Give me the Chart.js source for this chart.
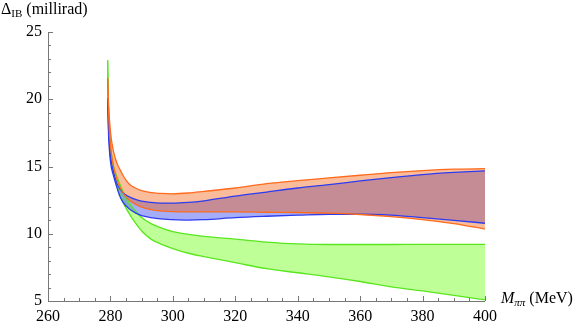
<!DOCTYPE html>
<html>
<head>
<meta charset="utf-8">
<script src="https://cdn.jsdelivr.net/npm/chart.js@4.4.1/dist/chart.umd.min.js"></script>
<style>
  html, body { margin: 0; padding: 0; background: #fff; }
  #wrap { position: relative; width: 580px; height: 327px; }
  .lbl { position: absolute; font-family: "Liberation Serif", "DejaVu Serif", serif; font-size: 16px; color: #000; white-space: nowrap; }
  .lbl sub { font-size: 11px; vertical-align: -3px; }
</style>
</head>
<body>
<div id="wrap">
  <canvas id="chart" width="580" height="327"></canvas>
  <div class="lbl" style="left:1px; top:0px;">&Delta;<sub>IB</sub> (millirad)</div>
  <div class="lbl" style="left:501px; top:289px;"><i>M</i><sub><i>&pi;&pi;</i></sub> (MeV)</div>
</div>
<script>
// energies (MeV)
const mpipi = [279.1, 279.4, 280, 281, 282, 283, 284, 286, 288, 290, 293, 296, 300,
               305, 310, 320, 330, 340, 350, 360, 370, 380, 390, 400];

const orangeUpper = [21.6, 19.6, 17.6, 16.1, 15.3, 14.8, 14.35, 13.7, 13.4, 13.2, 13.05, 13.0, 12.97,
                     13.03, 13.15, 13.4, 13.72, 13.95, 14.15, 14.35, 14.55, 14.7, 14.8, 14.84];
const orangeLower = [21.6, 19.0, 16.6, 15.0, 14.1, 13.5, 13.05, 12.5, 12.2, 11.98, 11.8, 11.7, 11.64,
                     11.62, 11.62, 11.62, 11.6, 11.58, 11.53, 11.43, 11.27, 11.05, 10.75, 10.35];
const blueUpper = [20.1, 17.8, 15.8, 14.6, 13.8, 13.35, 13.05, 12.75, 12.55, 12.42, 12.33, 12.28, 12.27,
                   12.33, 12.45, 12.8, 13.1, 13.4, 13.65, 13.93, 14.18, 14.4, 14.56, 14.68];
const blueLower = [20.1, 17.4, 15.4, 14.3, 13.5, 12.8, 12.35, 11.85, 11.55, 11.35, 11.2, 11.1, 11.05,
                   11.02, 11.05, 11.2, 11.3, 11.38, 11.45, 11.45, 11.38, 11.2, 11.0, 10.78];
const greenUpper = [22.9, 18.8, 16.6, 15.0, 14.3, 13.7, 13.15, 12.3, 11.7, 11.2, 10.75, 10.45, 10.15,
                    9.95, 9.8, 9.6, 9.38, 9.24, 9.2, 9.2, 9.2, 9.21, 9.21, 9.21];
const greenLower = [22.9, 18.5, 16.2, 14.6, 13.6, 12.9, 12.35, 11.5, 10.8, 10.2, 9.6, 9.25, 8.9,
                    8.55, 8.3, 7.85, 7.4, 7.1, 6.8, 6.45, 6.05, 5.75, 5.42, 5.08];

const xMajorTicks = [260, 280, 300, 320, 340, 360, 380, 400];
const yMajorTicks = [5, 10, 15, 20, 25];

function pts(ys) {
    return mpipi.map((x, i) => ({ x: x, y: ys[i] }));
}

function band(ys, line, fillColor, fillTo) {
    return {
        data: pts(ys),
        borderColor: line,
        borderWidth: 1.3,
        backgroundColor: fillColor,
        fill: fillTo,
        pointRadius: 0,
        cubicInterpolationMode: 'monotone'
    };
}

// inward ticks + axis lines, like the original plot
const axesPlugin = {
    id: 'axesPlugin',
    afterDraw(chart) {
        const ctx = chart.ctx;
        const xs = chart.scales.x, ys = chart.scales.y;
        const area = chart.chartArea;
        ctx.save();
        ctx.strokeStyle = '#777';
        ctx.lineWidth = 1;
        ctx.beginPath();
        ctx.moveTo(area.left + 0.5, area.top);
        ctx.lineTo(area.left + 0.5, area.bottom + 0.5);
        ctx.lineTo(area.right, area.bottom + 0.5);
        ctx.stroke();
        xs.ticks.forEach(t => {
            const px = Math.round(xs.getPixelForValue(t.value)) + 0.5;
            const len = xMajorTicks.includes(t.value) ? 5 : 3;
            ctx.beginPath();
            ctx.moveTo(px, area.bottom);
            ctx.lineTo(px, area.bottom - len);
            ctx.stroke();
        });
        ys.ticks.forEach(t => {
            const py = Math.round(ys.getPixelForValue(t.value)) + 0.5;
            const len = yMajorTicks.includes(t.value) ? 5 : 3;
            ctx.beginPath();
            ctx.moveTo(area.left, py);
            ctx.lineTo(area.left + len, py);
            ctx.stroke();
        });
        ctx.restore();
    }
};

new Chart(document.getElementById('chart').getContext('2d'), {
    type: 'line',
    data: {
        datasets: [
            band(orangeUpper, '#ff6a1c', 'rgba(243, 95, 15, 0.42)', '+1'),
            band(orangeLower, '#ff6a1c', 'transparent', false),
            band(blueUpper, '#2d3cf0', 'rgba(40, 60, 240, 0.42)', '+1'),
            band(blueLower, '#2d3cf0', 'transparent', false),
            band(greenUpper, '#5ae61e', 'rgba(125, 255, 50, 0.5)', '+1'),
            band(greenLower, '#5ae61e', 'transparent', false)
        ]
    },
    options: {
        responsive: false,
        animation: false,
        layout: { padding: { left: 0, top: 32, right: 95, bottom: 0 } },
        plugins: {
            legend: { display: false },
            tooltip: { enabled: false },
            filler: { drawTime: 'beforeDatasetsDraw' }
        },
        scales: {
            x: {
                type: 'linear',
                min: 260,
                max: 400,
                border: { display: false },
                grid: { display: false, drawTicks: false },
                afterFit(s) { s.height = 26; },
                ticks: {
                    stepSize: 5,
                    autoSkip: false,
                    maxRotation: 0,
                    padding: 6,
                    color: '#000',
                    font: { family: 'Liberation Serif', size: 16 },
                    callback: v => (xMajorTicks.includes(v) ? String(v) : '')
                }
            },
            y: {
                min: 5,
                max: 25,
                border: { display: false },
                grid: { display: false, drawTicks: false },
                afterFit(s) { s.width = 48; },
                ticks: {
                    stepSize: 1,
                    autoSkip: false,
                    padding: 6,
                    color: '#000',
                    font: { family: 'Liberation Serif', size: 16 },
                    callback: v => (yMajorTicks.includes(v) ? String(v) : '')
                }
            }
        }
    },
    plugins: [axesPlugin]
});
</script>
</body>
</html>
